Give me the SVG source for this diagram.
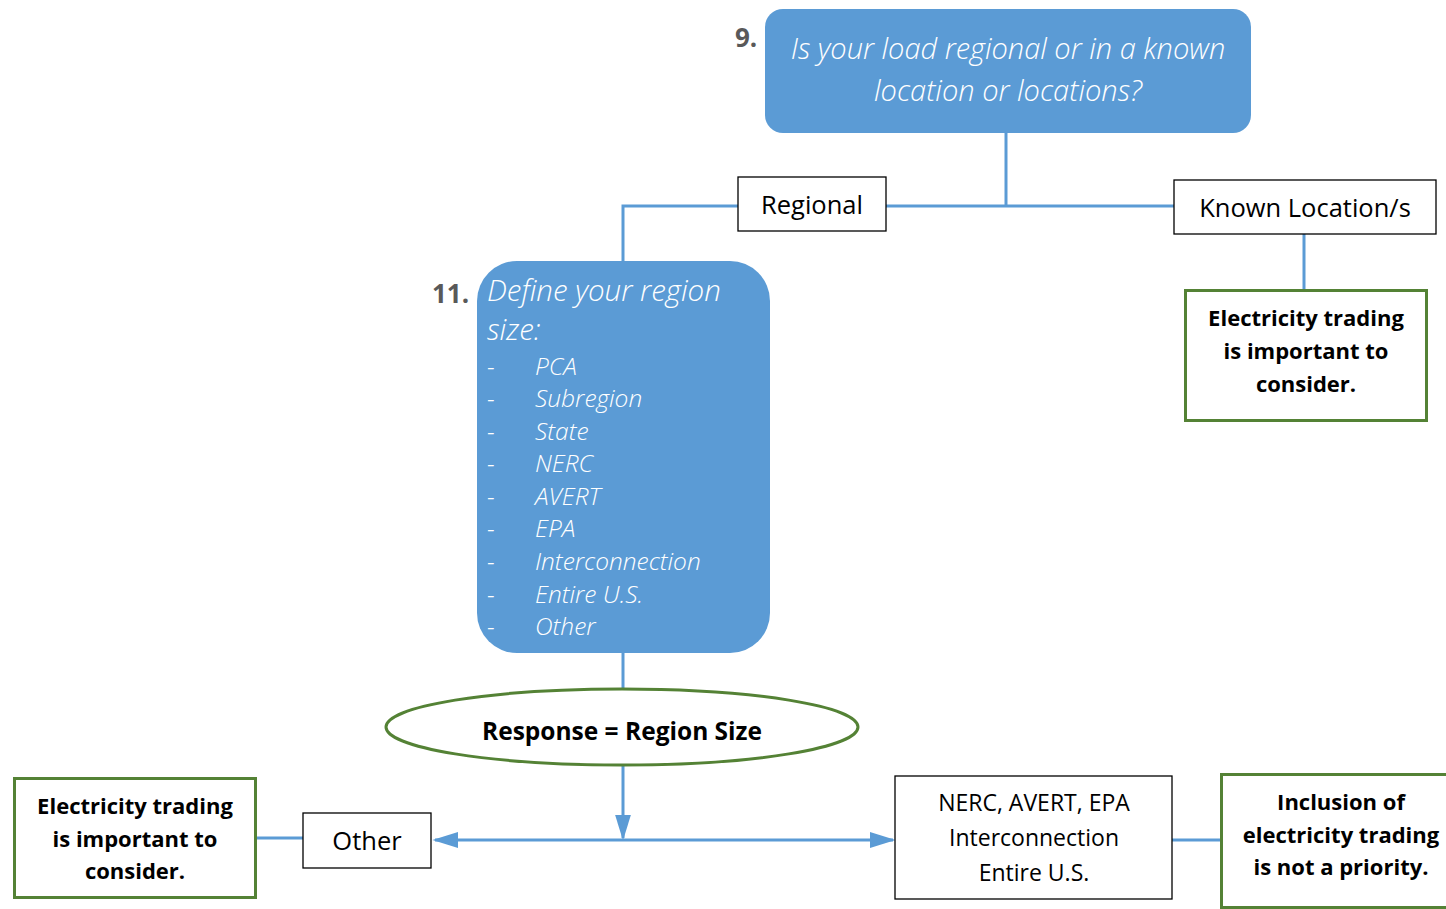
<svg xmlns="http://www.w3.org/2000/svg" width="1446" height="909" viewBox="0 0 1446 909">
  <style>
    .q { fill: #5B9BD5; }
    .qt { font-family: "Open Sans", "Liberation Sans", sans-serif; font-style: italic; font-weight: 300; fill: #FFFFFF; }
    .num { font-family: "Open Sans", "Liberation Sans", sans-serif; font-weight: 700; fill: #595959; font-size: 26px; }
    .opt { fill: #FFFFFF; stroke: #000000; stroke-width: 1.3; }
    .ot { font-family: "Open Sans", "Liberation Sans", sans-serif; fill: #000000; text-anchor: middle; }
    .res { fill: #FFFFFF; stroke: #548235; stroke-width: 3; }
    .rt { font-family: "Open Sans", "Liberation Sans", sans-serif; font-weight: 700; fill: #000000; text-anchor: middle; font-size: 22px; }
    .big { font-size: 24.5px; }
    .ln { fill: none; stroke: #5B9BD5; stroke-width: 3; }
  </style>
  <defs>
    <marker id="arrL" viewBox="0 0 10 10" refX="9" refY="5" markerWidth="26" markerHeight="16" markerUnits="userSpaceOnUse" orient="auto-start-reverse" preserveAspectRatio="none">
      <path d="M0,0 L10,5 L0,10 Z" fill="#5B9BD5"/>
    </marker>
  </defs>

  <!-- connectors -->
  <g id="connectors">
    <path class="ln" d="M1006,133 V206"/>
    <path class="ln" d="M623,261 V206 H738"/>
    <path class="ln" d="M886,206 H1174"/>
    <path class="ln" d="M1304,234 V290"/>
    <path class="ln" d="M623,653 V690"/>
    <path class="ln" d="M623,765 V838" marker-end="url(#arrL)"/>
    <path class="ln" d="M435,840 H893" marker-start="url(#arrL)" marker-end="url(#arrL)"/>
    <path class="ln" d="M257,838 H303"/>
    <path class="ln" d="M1172,840 H1221"/>
  </g>

  <!-- question 9 -->
  <g id="q9">
    <rect class="q" x="765" y="9" width="486" height="124" rx="18"/>
    <text class="num" x="735" y="47">9.</text>
    <text class="qt" font-size="29" text-anchor="middle" x="1008" y="59">Is your load regional or in a known</text>
    <text class="qt" font-size="29" text-anchor="middle" x="1008" y="101">location or locations?</text>
  </g>

  <!-- answer: regional -->
  <g id="regional">
    <rect class="opt" x="738" y="177" width="148" height="54"/>
    <text class="ot" x="812" y="214" font-size="25.5">Regional</text>
  </g>

  <!-- answer: known locations -->
  <g id="known">
    <rect class="opt" x="1174" y="180" width="262" height="54"/>
    <text class="ot" x="1305" y="217" font-size="25.5">Known Location/s</text>
  </g>

  <!-- result for known locations -->
  <g id="result-known">
    <rect class="res" x="1185.5" y="290.5" width="241" height="130"/>
    <text class="rt" x="1306" y="326">Electricity trading</text>
    <text class="rt" x="1306" y="359">is important to</text>
    <text class="rt" x="1306" y="392">consider.</text>
  </g>

  <!-- question 11 -->
  <g id="q11">
    <rect class="q" x="477" y="261" width="293" height="392" rx="40"/>
    <text class="num" x="432" y="303">11.</text>
    <text class="qt" font-size="29.5" x="487" y="301">Define your region</text>
    <text class="qt" font-size="29.5" x="487" y="340">size:</text>
    <g class="qt" font-size="24.5">
      <text x="487" y="375">-</text><text x="535" y="375">PCA</text>
      <text x="487" y="407">-</text><text x="535" y="407">Subregion</text>
      <text x="487" y="440">-</text><text x="535" y="440">State</text>
      <text x="487" y="472">-</text><text x="535" y="472">NERC</text>
      <text x="487" y="505">-</text><text x="535" y="505">AVERT</text>
      <text x="487" y="537">-</text><text x="535" y="537">EPA</text>
      <text x="487" y="570">-</text><text x="535" y="570">Interconnection</text>
      <text x="487" y="603">-</text><text x="535" y="603">Entire U.S.</text>
      <text x="487" y="635">-</text><text x="535" y="635">Other</text>
    </g>
  </g>

  <!-- response -->
  <g id="response">
    <ellipse cx="622" cy="727" rx="236" ry="38" fill="#FFFFFF" stroke="#548235" stroke-width="3"/>
    <text class="rt big" x="622" y="740">Response = Region Size</text>
  </g>

  <!-- answer: other -->
  <g id="other">
    <rect class="opt" x="303" y="813" width="128" height="55"/>
    <text class="ot" x="367" y="850" font-size="25.5">Other</text>
  </g>

  <!-- result for other -->
  <g id="result-other">
    <rect class="res" x="14.5" y="778.5" width="241" height="119"/>
    <text class="rt" x="135" y="814">Electricity trading</text>
    <text class="rt" x="135" y="847">is important to</text>
    <text class="rt" x="135" y="879">consider.</text>
  </g>

  <!-- answer: large regions -->
  <g id="large">
    <rect class="opt" x="895" y="776" width="277" height="123"/>
    <text class="ot" x="1034" y="811" font-size="23">NERC, AVERT, EPA</text>
    <text class="ot" x="1034" y="846" font-size="23">Interconnection</text>
    <text class="ot" x="1034" y="881" font-size="23">Entire U.S.</text>
  </g>

  <!-- result for large regions -->
  <g id="result-large">
    <rect class="res" x="1221.5" y="774.5" width="240" height="133"/>
    <text class="rt" x="1341" y="810">Inclusion of</text>
    <text class="rt" x="1341" y="843">electricity trading</text>
    <text class="rt" x="1341" y="875">is not a priority.</text>
  </g>
</svg>
